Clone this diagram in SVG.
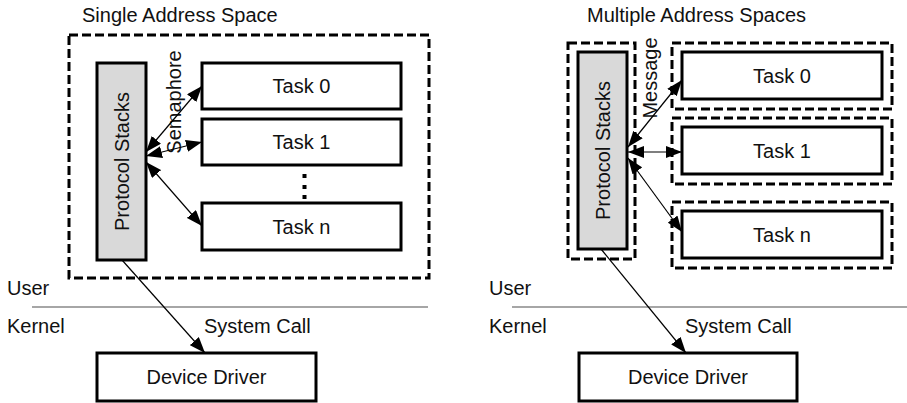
<svg xmlns="http://www.w3.org/2000/svg" width="907" height="403" viewBox="0 0 907 403">
<defs>
<style>
text{font-family:"Liberation Sans",Arial,sans-serif;font-size:20px;fill:#111}
.c{text-anchor:middle}
.box{fill:#fff;stroke:#000;stroke-width:3}
.ps{fill:#d9d9d9;stroke:#000;stroke-width:3}
.dash{fill:none;stroke:#000;stroke-width:3;stroke-dasharray:9 4}
.sep{stroke:#888;stroke-width:1.5}
.conn{stroke:#000;stroke-width:1.2;fill:none}
</style>
<marker id="ah" viewBox="0 0 16 12" refX="16" refY="6" markerWidth="16" markerHeight="12" markerUnits="userSpaceOnUse" orient="auto-start-reverse">
<path d="M0,0 L16,6 L0,12 z" fill="#000"/>
</marker>
</defs>

<!-- Left: Single Address Space -->
<g id="left-title"><text x="82" y="22">Single Address Space</text></g>
<g id="left-space"><rect class="dash" x="69" y="35" width="360" height="243"/></g>
<g id="left-protocol"><rect class="ps" x="97" y="63" width="49" height="197"/>
<text class="c" transform="translate(128.5,161.5) rotate(-90)">Protocol Stacks</text></g>
<g id="left-task0"><rect class="box" x="202" y="63" width="199" height="46"/><text class="c" x="301.5" y="93">Task 0</text></g>
<g id="left-task1"><rect class="box" x="202" y="119" width="199" height="46"/><text class="c" x="301.5" y="149">Task 1</text></g>
<g id="left-dots" fill="#000"><rect x="302.5" y="174" width="4" height="4"/><rect x="302.5" y="185" width="4" height="4"/><rect x="302.5" y="195" width="4" height="4"/></g>
<g id="left-taskn"><rect class="box" x="202" y="203" width="199" height="47"/><text class="c" x="301.5" y="233.5">Task n</text></g>
<g id="left-semaphore"><text class="c" transform="translate(181,102) rotate(-90)">Semaphore</text></g>
<g id="left-user"><text x="7" y="295">User</text></g>
<g id="left-kernel"><text x="7" y="333">Kernel</text></g>
<g id="left-syscall"><text x="204" y="333">System Call</text></g>
<g id="left-driver"><rect class="box" x="97" y="353" width="219" height="48"/><text class="c" x="206.5" y="384">Device Driver</text></g>

<!-- Right: Multiple Address Spaces -->
<g id="right-title"><text x="587" y="22">Multiple Address Spaces</text></g>
<g id="right-protocol"><rect class="dash" x="568" y="43" width="67" height="216"/>
<rect class="ps" x="578" y="52" width="49" height="197"/>
<text class="c" transform="translate(609.5,150.5) rotate(-90)">Protocol Stacks</text></g>
<g id="right-task0"><rect class="dash" x="672" y="43" width="220" height="66"/><rect class="box" x="682" y="52" width="200" height="47"/><text class="c" x="782" y="82.5">Task 0</text></g>
<g id="right-task1"><rect class="dash" x="672" y="118" width="220" height="66"/><rect class="box" x="682" y="127" width="200" height="47"/><text class="c" x="782" y="157.5">Task 1</text></g>
<g id="right-taskn"><rect class="dash" x="672" y="202" width="220" height="66"/><rect class="box" x="682" y="211" width="200" height="47"/><text class="c" x="782" y="241.5">Task n</text></g>
<g id="right-message"><text class="c" transform="translate(657,78) rotate(-90)">Message</text></g>
<g id="right-user"><text x="489" y="295">User</text></g>
<g id="right-kernel"><text x="489" y="333">Kernel</text></g>
<g id="right-syscall"><text x="685" y="333">System Call</text></g>
<g id="right-driver"><rect class="box" x="579" y="353" width="218" height="48"/><text class="c" x="688" y="384">Device Driver</text></g>

<g id="connectors">
<line class="sep" x1="32" y1="307" x2="428" y2="307"/>
<line class="sep" x1="512" y1="307" x2="907" y2="307"/>
<line class="conn" x1="146" y1="152" x2="202" y2="86" marker-start="url(#ah)" marker-end="url(#ah)"/>
<line class="conn" x1="146" y1="156" x2="202" y2="142" marker-start="url(#ah)" marker-end="url(#ah)"/>
<line class="conn" x1="146" y1="162" x2="202" y2="226" marker-start="url(#ah)" marker-end="url(#ah)"/>
<line class="conn" x1="122" y1="260" x2="205" y2="353" marker-end="url(#ah)"/>
<line class="conn" x1="628" y1="147" x2="682" y2="80" marker-start="url(#ah)" marker-end="url(#ah)"/>
<line class="conn" x1="628" y1="152" x2="682" y2="152" marker-start="url(#ah)" marker-end="url(#ah)"/>
<line class="conn" x1="628" y1="158" x2="682" y2="232" marker-start="url(#ah)" marker-end="url(#ah)"/>
<line class="conn" x1="601" y1="249" x2="686" y2="353" marker-end="url(#ah)"/>
</g>
</svg>
